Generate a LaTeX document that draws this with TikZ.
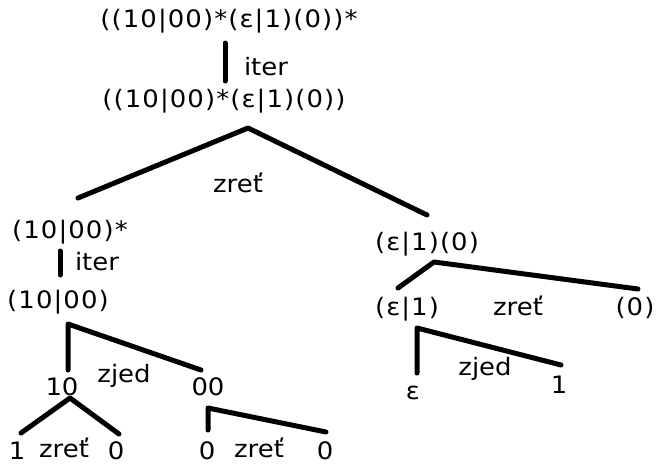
\documentclass[tikz,border=0pt]{standalone}
\usepackage{fontspec}
\setmainfont{DejaVu Sans}[FakeStretch=1.08]
\newfontfamily\formfont{DejaVu Sans}[FakeStretch=1.08,LetterSpace=4.6]
\begin{document}
\begin{tikzpicture}[x=1pt,y=-1pt,
  lbl/.style={anchor=base,inner sep=0pt,outer sep=0pt,font=\fontsize{24}{28}\selectfont},
  form/.style={anchor=base,inner sep=0pt,outer sep=0pt,font=\formfont\fontsize{24}{28}\selectfont},
  edge/.style={line width=5pt,line cap=round,line join=round}]
\useasboundingbox (0,0) rectangle (656,464);
% texts
\node[form] (top) at (229,27) {((10|00)*(ε|1)(0))*};
\node[lbl] (iterA) at (266,75) {iter};
\node[form] (second) at (224,107) {((10|00)*(ε|1)(0))};
\node[lbl] (zretA) at (238,192) {zreť};
\node[form] (star) at (70,238) {(10|00)*};
\node[lbl] (iterB) at (97,270) {iter};
\node[form] (alt) at (58,308) {(10|00)};
\node[form] (cat) at (427,250) {(ε|1)(0)};
\node[form] (epsone) at (407,315) {(ε|1)};
\node[lbl] (zretB) at (518,315) {zreť};
\node[form] (zero) at (635,315) {(0)};
\node[lbl] (zjedB) at (485,375) {zjed};
\node[lbl] (eps) at (413,399) {ε};
\node[lbl] (one) at (559,393) {1};
\node[lbl] (ten) at (62,395) {10};
\node[lbl] (zjedA) at (124,382) {zjed};
\node[lbl] (dz) at (208,395) {00};
\node[lbl] (oneB) at (17,459) {1};
\node[lbl] (zretC) at (64,457) {zreť};
\node[lbl] (zeroB) at (116,459) {0};
\node[lbl] (zeroC) at (207,459) {0};
\node[lbl] (zretD) at (259,457) {zreť};
\node[lbl] (zeroD) at (325,459) {0};
% line end points
\coordinate (i1a) at (225,43); \coordinate (i1b) at (225,81);
\coordinate (r1) at (248,128); \coordinate (r1l) at (78,198); \coordinate (r1r) at (427,215);
\coordinate (i2a) at (60,251); \coordinate (i2b) at (60,275);
\coordinate (r2) at (434,262); \coordinate (r2l) at (398,288); \coordinate (r2r) at (638,289);
\coordinate (r3) at (417,328); \coordinate (r3l) at (417,373); \coordinate (r3r) at (561,365);
\coordinate (r4) at (68,324); \coordinate (r4l) at (68,370); \coordinate (r4r) at (201,370);
\coordinate (r5) at (70,398); \coordinate (r5l) at (21,433); \coordinate (r5r) at (119,434);
\coordinate (r6) at (208,408); \coordinate (r6l) at (208,430); \coordinate (r6r) at (326,432);
% lines
\draw[edge] (i1a) -- (i1b);
\draw[edge] (r1l) -- (r1) -- (r1r);
\draw[edge] (i2a) -- (i2b);
\draw[edge] (r2l) -- (r2) -- (r2r);
\draw[edge] (r3l) -- (r3) -- (r3r);
\draw[edge] (r4l) -- (r4) -- (r4r);
\draw[edge] (r5l) -- (r5) -- (r5r);
\draw[edge] (r6l) -- (r6) -- (r6r);
\end{tikzpicture}
\end{document}
